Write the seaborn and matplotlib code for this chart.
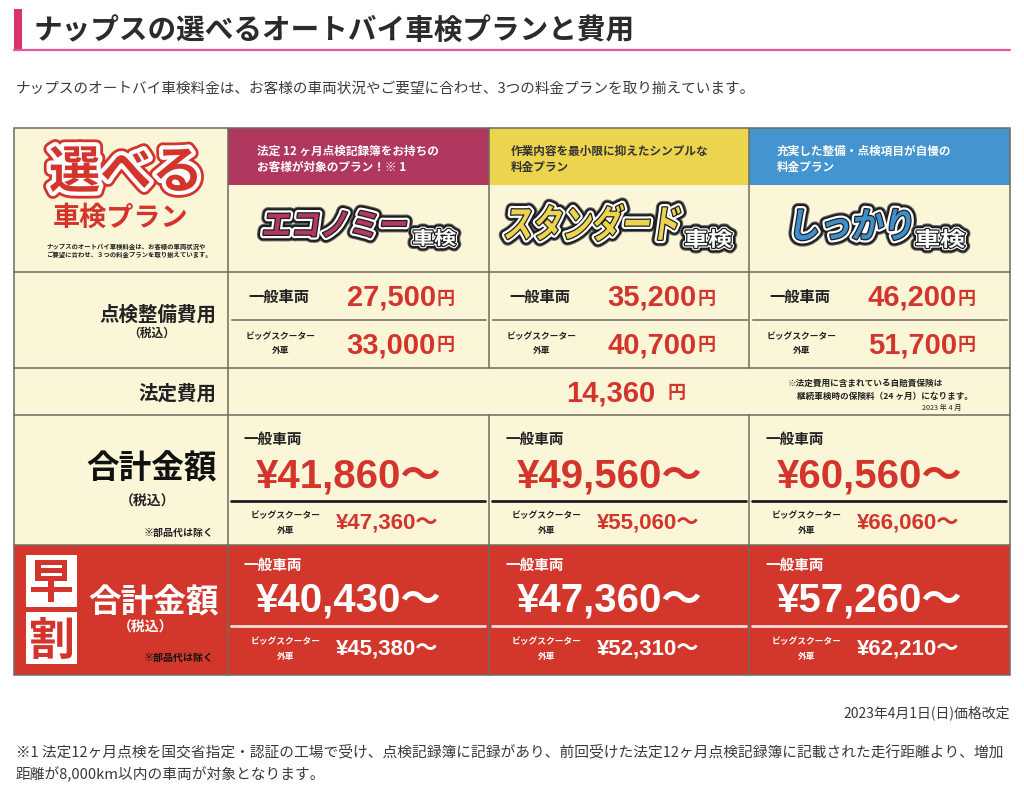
import matplotlib
matplotlib.use('Agg')
import matplotlib.pyplot as plt
import matplotlib.patheffects as pe
import seaborn as sns
from matplotlib.patches import Rectangle, PathPatch
from matplotlib.textpath import TextPath
from matplotlib.font_manager import FontProperties
from matplotlib.transforms import Affine2D

# ---- data ----
title = 'ナップスの選べるオートバイ車検プランと費用'
intro = 'ナップスのオートバイ車検料金は、お客様の車両状況やご要望に合わせ、3つの料金プランを取り揃えています。'
plans = ['エコノミー', 'スタンダード', 'しっかり']
plan_notes = [['法定 12 ヶ月点検記録簿をお持ちの', 'お客様が対象のプラン！※ 1'],
              ['作業内容を最小限に抑えたシンプルな', '料金プラン'],
              ['充実した整備・点検項目が自慢の', '料金プラン']]
basic_general = [27500, 35200, 46200]
basic_big = [33000, 40700, 51700]
legal_fee = 14360
total_general = [41860, 49560, 60560]
total_big = [47360, 55060, 66060]
early_general = [40430, 47360, 57260]
early_big = [45380, 52310, 62210]
legal_note = ['※法定費用に含まれている自賠責保険は', '継続車検時の保険料（24 ヶ月）になります。', '2023 年 4 月']
revised = '2023年4月1日(日)価格改定'
footnote = ['※1 法定12ヶ月点検を国交省指定・認証の工場で受け、点検記録簿に記録があり、前回受けた法定12ヶ月点検記録簿に記載された走行距離より、増加',
            '距離が8,000km以内の車両が対象となります。']

# ---- style ----
JP = ['Noto Sans CJK JP', 'DejaVu Sans']
NUM = ['Liberation Sans', 'Noto Sans CJK JP']
cream = '#FAF6D7'
border = '#6F6A5F'
red = '#D3352C'
early_bg = '#D3372C'
dark = '#222222'
band_colors = ['#B0385F', '#EDD44E', '#4494CF']
band_text = ['white', '#333333', 'white']
logo_colors = ['#B3395F', '#EDD44E', '#3F8FCB']

sns.set_theme(style='white')
plt.rcParams['font.family'] = JP

fig = plt.figure(figsize=(10.24, 8), dpi=100)
ax = fig.add_axes([0, 0, 1, 1])
ax.set_xlim(0, 1024)
ax.set_ylim(800, 0)
ax.axis('off')

cols = [228, 489, 749, 1010]
L, R = 14, 1010


def txt(x, y, s, size, color=dark, weight='bold', ha='left', va='center', fam=JP, **kw):
    return ax.text(x, y, s, fontsize=size, color=color, fontweight=weight, ha=ha, va=va,
                   family=fam, **kw)


def fit_path(s, x0, y0, x1, y1, skew=0):
    fp = FontProperties(family='Noto Sans CJK JP', weight='bold')
    tp = TextPath((0, 0), s, size=40, prop=fp)
    ext = tp.get_extents()
    sx = (x1 - x0) / ext.width
    sy = (y1 - y0) / ext.height
    tr = (Affine2D().translate(-(ext.x0 + ext.x1) / 2, -(ext.y0 + ext.y1) / 2)
          .scale(sx, -sy).skew_deg(skew, 0)
          .translate((x0 + x1) / 2, (y0 + y1) / 2))
    return tr.transform_path(tp)


def logo(s, box, face, skew=-8, outer=8):
    path = fit_path(s, *box, skew=skew)
    rj = dict(joinstyle='round', capstyle='round')
    effects = [pe.Stroke(linewidth=outer + 1.5, foreground='#666666', **rj),
               pe.Stroke(linewidth=outer, foreground='#1e1e1e', **rj),
               pe.Stroke(linewidth=outer - 3, foreground='white', **rj),
               pe.Stroke(linewidth=1.8, foreground='#1e1e1e', **rj),
               pe.Normal()]
    ax.add_patch(PathPatch(path, facecolor=face, edgecolor='none', path_effects=effects))


# ---- title ----
ax.add_patch(Rectangle((14, 9), 8, 41, color='#D9336E', lw=0))
ax.plot([14, 1010], [50, 50], color='#E4589A', lw=1.6)
txt(34, 31, title, 20.6, color='#2b2b2b')
txt(16, 89, intro, 10.5, color='#3a3a3a', weight='normal')

# ---- table backgrounds ----
ax.add_patch(Rectangle((L, 128), R - L, 545 - 128, facecolor=cream, edgecolor='none'))
ax.add_patch(Rectangle((L, 545), R - L, 675 - 545, facecolor=early_bg, edgecolor='none'))
for i in range(3):
    ax.add_patch(Rectangle((cols[i], 128), cols[i + 1] - cols[i], 57, facecolor=band_colors[i],
                           edgecolor='none'))

# grid lines
for y in [272, 368, 415, 545]:
    ax.plot([L, R], [y, y], color=border, lw=1.1)
ax.add_patch(Rectangle((L, 128), R - L, 675 - 128, facecolor='none', edgecolor=border, lw=1.1))
ax.plot([228, 228], [128, 675], color=border, lw=1.1)
for x in [489, 749]:
    ax.plot([x, x], [128, 368], color=border, lw=1.1)
    ax.plot([x, x], [415, 675], color=border, lw=1.1)

# ---- left header cell ----
sel = fit_path('選べる', 50, 146, 197, 192)
rj = dict(joinstyle='round', capstyle='round')
ax.add_patch(PathPatch(sel, facecolor=red, edgecolor='none',
                       path_effects=[pe.Stroke(linewidth=10, foreground=red, **rj),
                                     pe.Stroke(linewidth=6, foreground='white', **rj),
                                     pe.Normal()]))
txt(121, 218, '車検プラン', 19.5, color=red, ha='center')
txt(46, 246, 'ナップスのオートバイ車検料金は、お客様の車両状況や', 4.6)
txt(46, 255, 'ご要望に合わせ、３つの料金プランを取り揃えています。', 4.6)

# ---- plan headers and logos ----
note_dx = [29, 22, 28]
main_boxes = [(265, 211, 406, 237), (507, 204, 679, 241), (796, 209, 910, 240)]
kenn_boxes = [(413, 229, 456, 246), (685, 229, 732, 248), (916, 229, 965, 248)]
for i in range(3):
    cl = cols[i]
    txt(cl + note_dx[i], 151, plan_notes[i][0], 8.4, color=band_text[i])
    txt(cl + note_dx[i], 167, plan_notes[i][1], 8.4, color=band_text[i])
    logo(plans[i], main_boxes[i], logo_colors[i])
    logo('車検', kenn_boxes[i], 'white', skew=0, outer=6.5)

# ---- inspection/maintenance cost row ----
txt(216, 315, '点検整備費用', 14, ha='right')
txt(152, 333, '（税込）', 8.5, ha='center')
for i in range(3):
    cl = cols[i]
    ax.plot([cl + 4, cl + 258], [320, 320], color='#8a8578', lw=1.4)
    txt(cl + 51, 297, '一般車両', 11, ha='center')
    txt(cl + 53, 337, 'ビッグスクーター', 6.3, ha='center')
    txt(cl + 53, 351, '外車', 6.3, ha='center')
    txt(cl + 208, 298, f'{basic_general[i]:,}', 21, color=red, ha='right', fam=NUM)
    txt(cl + 209, 298, '円', 13, color=red)
    txt(cl + 208, 345, f'{basic_big[i]:,}', 21, color=red, ha='right', fam=NUM)
    txt(cl + 209, 345, '円', 13, color=red)

# ---- legal fee row ----
txt(216, 394, '法定費用', 14, ha='right')
txt(655, 393, f'{legal_fee:,}', 21, color=red, ha='right', fam=NUM)
txt(668, 393, '円', 13, color=red)
txt(788, 383, legal_note[0], 6.2)
txt(797, 396, legal_note[1], 6.2)
txt(962, 408, legal_note[2], 5.2, ha='right', weight='normal')

# ---- total row ----
txt(217, 469, '合計金額', 23.5, ha='right', color='#111111')
txt(148, 502, '（税込）', 10, ha='center')
txt(214, 533, '※部品代は除く', 7.2, ha='right')
for i in range(3):
    cl = cols[i]
    ax.plot([cl + 3, cl + 257], [501, 501], color='#1e1e1e', lw=2)
    txt(cl + 16, 439, '一般車両', 10.5)
    txt(cl + 28, 476, f'¥{total_general[i]:,}～', 29, color=red, fam=NUM)
    txt(cl + 58, 516, 'ビッグスクーター', 6.3, ha='center')
    txt(cl + 58, 530, '外車', 6.3, ha='center')
    txt(cl + 108, 523, f'¥{total_big[i]:,}～', 16, color=red, fam=NUM)

# ---- early booking row ----
for ch, y0 in [('早', 555), ('割', 612)]:
    ax.add_patch(Rectangle((26, y0), 51, 52, facecolor='white', edgecolor='none'))
    ax.add_patch(PathPatch(fit_path(ch, 31, y0 + 5, 72, y0 + 47), facecolor=red, edgecolor='none'))
txt(219, 603, '合計金額', 23.5, ha='right', color='white')
txt(146, 628, '（税込）', 10, ha='center', color='white')
txt(214, 658, '※部品代は除く', 7.2, ha='right', color='#111111')
for i in range(3):
    cl = cols[i]
    ax.plot([cl + 3, cl + 257], [626, 626], color='#f4dcd8', lw=2)
    txt(cl + 16, 565, '一般車両', 10.5, color='white')
    txt(cl + 28, 600, f'¥{early_general[i]:,}～', 29, color='white', fam=NUM)
    txt(cl + 58, 642, 'ビッグスクーター', 6.3, ha='center', color='white')
    txt(cl + 58, 656, '外車', 6.3, ha='center', color='white')
    txt(cl + 108, 649, f'¥{early_big[i]:,}～', 16, color='white', fam=NUM)

# ---- footer ----
txt(1010, 713, revised, 10, color='#3a3a3a', weight='normal', ha='right')
txt(16, 752, footnote[0], 10.6, color='#3a3a3a', weight='normal')
txt(16, 775, footnote[1], 10.6, color='#3a3a3a', weight='normal')

fig.savefig('out.png', dpi=100, facecolor='white')
